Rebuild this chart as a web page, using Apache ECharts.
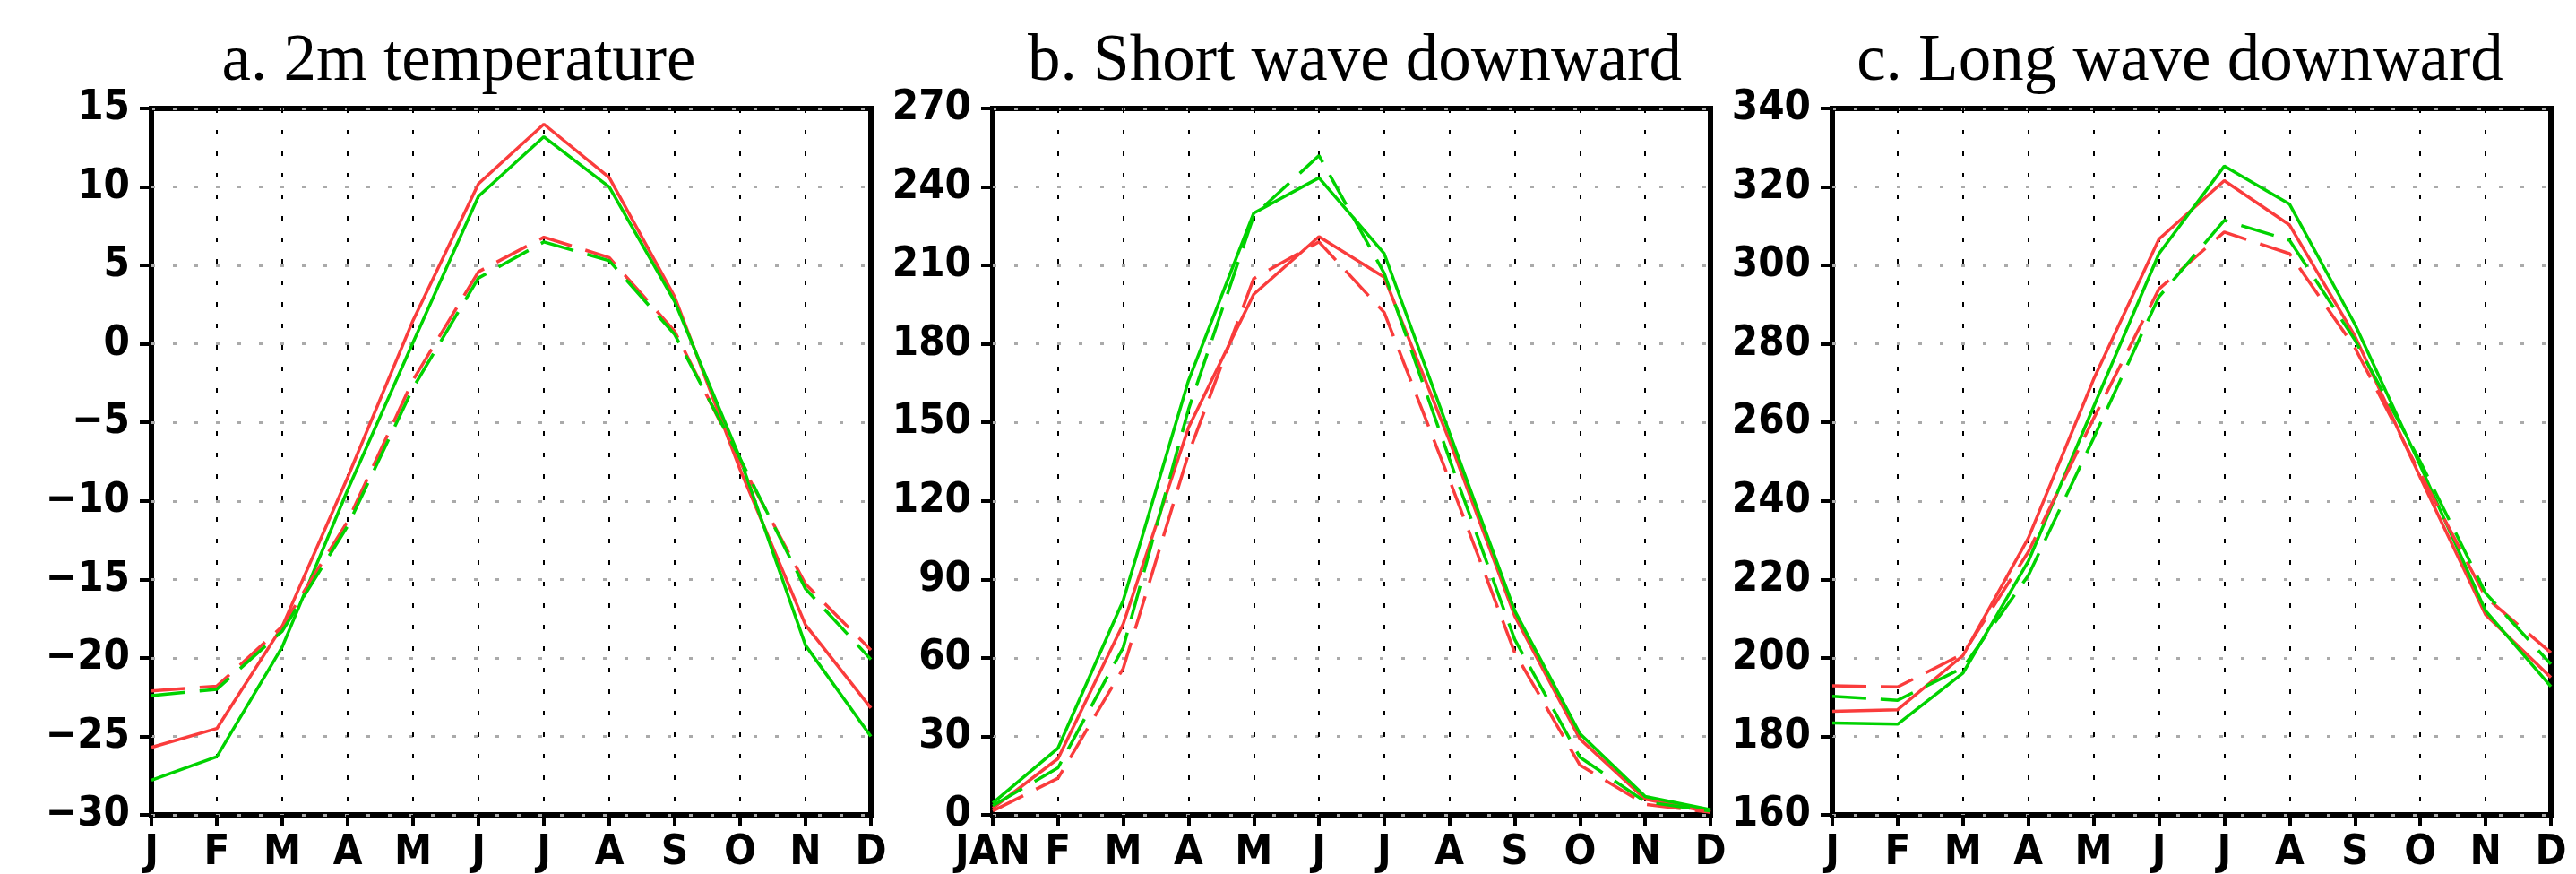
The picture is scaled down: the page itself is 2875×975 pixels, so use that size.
<!DOCTYPE html>
<html>
<head>
<meta charset="utf-8">
<script src="https://cdn.jsdelivr.net/npm/echarts@6/dist/echarts.min.js"></script>
<style>
  html, body { margin: 0; padding: 0; background: #fff; }
  #chart { width: 2875px; height: 975px; }
</style>
</head>
<body>
<div id="chart"></div>
<script>
// month labels (panel b starts with JAN)
const monthsA = ["J", "F", "M", "A", "M", "J", "J", "A", "S", "O", "N", "D"]
const monthsB = ["JAN", "F", "M", "A", "M", "J", "J", "A", "S", "O", "N", "D"]
const monthsC = monthsA

const titles = ["a. 2m temperature", "b. Short wave downward", "c. Long wave downward"]

// a. 2m temperature
const redSolidT = [-25.7, -24.5, -18.0, -8.5, 1.5, 10.2, 14.0, 10.6, 3.0, -8.0, -17.9, -23.2]
const greenSolidT = [-27.8, -26.3, -19.3, -9.3, 0.1, 9.4, 13.2, 10.0, 2.7, -7.3, -19.2, -25.0]
const redDashT = [-22.1, -21.8, -18.0, -11.3, -2.3, 4.6, 6.8, 5.5, 0.8, -7.5, -15.3, -19.5]
const greenDashT = [-22.4, -22.0, -18.3, -11.6, -2.8, 4.2, 6.5, 5.3, 0.6, -7.3, -15.6, -20.1]

// b. short wave downward
const redSolidSW = [2.5, 21.5, 73, 148, 199, 221, 205.5, 143, 76, 29, 6, 1]
const greenSolidSW = [4.5, 25.5, 82, 166, 230, 243.5, 214.5, 146, 78, 31, 7, 2]
const redDashSW = [1.5, 14, 56, 138, 205, 219, 192, 128, 62, 19, 4, 1]
const greenDashSW = [3.5, 18, 64, 155, 229, 252, 207, 136, 67, 22, 5, 1.5]

// c. long wave downward
const redSolidLW = [186.4, 186.8, 200.6, 230.5, 271, 306.7, 321.6, 310.3, 282, 246, 211, 195]
const greenSolidLW = [183.4, 183.1, 196.1, 224.6, 264, 303, 325.3, 315.6, 285, 249, 212, 192.7]
const redDashLW = [192.9, 192.6, 201, 227, 261, 294, 308.5, 303, 279, 247, 215.5, 201.3]
const greenDashLW = [190.2, 189.2, 197.5, 221, 256, 292, 311.5, 306.4, 281, 250, 216.5, 198.4]

const RED = "rgb(250,60,60)"
const GREEN = "rgb(0,210,0)"
const DASH = [38, 16]
const labelFont = "'Liberation Sans Narrow', 'DejaVu Sans Condensed', 'Liberation Sans', sans-serif"

const panels = [
  { left: 169, width: 803, cats: monthsA, min: -30, max: 15, step: 5, titleX: 512,
    series: [redSolidT, greenSolidT, redDashT, greenDashT] },
  { left: 1108, width: 801, cats: monthsB, min: 0, max: 270, step: 30, titleX: 1512,
    series: [redSolidSW, greenSolidSW, redDashSW, greenDashSW] },
  { left: 2045, width: 802, cats: monthsC, min: 160, max: 340, step: 20, titleX: 2433,
    series: [redSolidLW, greenSolidLW, redDashLW, greenDashLW] }
]

const styles = [
  { color: RED, type: "solid" },
  { color: GREEN, type: "solid" },
  { color: RED, type: DASH },
  { color: GREEN, type: DASH }
]

const option = {
  animation: false,
  backgroundColor: "#fff",
  title: panels.map((p, i) => ({
    text: titles[i],
    left: p.titleX,
    top: 33,
    padding: 0,
    textAlign: "center",
    textStyle: { fontFamily: "'Liberation Serif', 'Times New Roman', serif", fontSize: 73, fontWeight: "normal", color: "#000" }
  })),
  grid: panels.map(p => ({
    left: p.left, top: 121, width: p.width, height: 803,
    show: true, borderColor: "#000", borderWidth: 6, backgroundColor: "transparent"
  })),
  xAxis: panels.map((p, i) => ({
    type: "category",
    gridIndex: i,
    data: p.cats,
    boundaryGap: false,
    axisLine: { show: false, onZero: false },
    axisTick: { show: true, interval: 0, length: 13, lineStyle: { color: "#000", width: 4 } },
    axisLabel: { interval: 0, margin: 19, color: "#000", fontSize: 47, fontWeight: "bold", fontFamily: labelFont },
    splitLine: { show: true, interval: 0, lineStyle: { color: "#000", width: 2, type: [5, 19] } }
  })),
  yAxis: panels.map((p, i) => ({
    type: "value",
    gridIndex: i,
    min: p.min, max: p.max, interval: p.step,
    axisLine: { show: false, onZero: false },
    axisTick: { show: true, length: 13, lineStyle: { color: "#000", width: 4 } },
    axisLabel: {
      margin: 24, color: "#000", fontSize: 47, fontWeight: "bold", fontFamily: labelFont,
      formatter: v => String(v).replace("-", "\u2212")
    },
    splitLine: { show: true, lineStyle: { color: "#aaa", width: 3, type: [4, 20] } }
  })),
  series: []
}

panels.forEach((p, i) => {
  p.series.forEach((values, k) => {
    option.series.push({
      type: "line",
      xAxisIndex: i,
      yAxisIndex: i,
      data: values,
      symbol: "none",
      lineStyle: { color: styles[k].color, width: 3.5, type: styles[k].type }
    })
  })
})

const chart = echarts.init(document.getElementById("chart"), null, { renderer: "canvas" })
chart.setOption(option)
</script>
</body>
</html>
